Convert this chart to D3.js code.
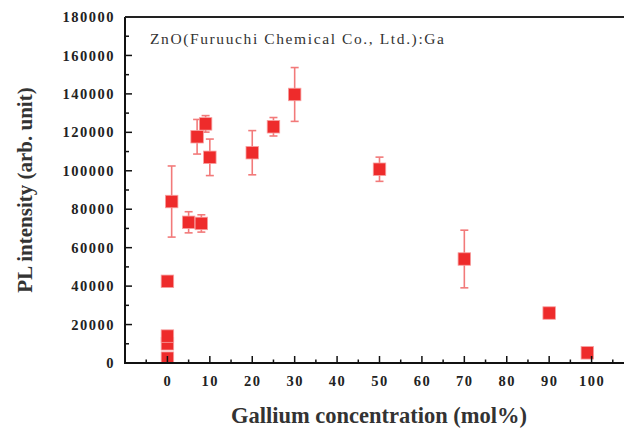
<!DOCTYPE html>
<html>
<head>
<meta charset="utf-8">
<script src="https://cdn.jsdelivr.net/npm/d3@7"></script>
<style>
  html, body { margin: 0; padding: 0; background: #fff; }
  svg { display: block; }
  text { font-family: "Liberation Serif", "Times New Roman", serif; }
</style>
</head>
<body>
<div id="chart"></div>
<script>
// Gallium concentration (mol%) of each sample
const gaConc = [0, 0, 0, 0, 1, 5, 8, 7, 9, 10, 20, 25, 30, 50, 70, 90, 99];
// PL intensity (arb. unit)
const plIntensity = [2500, 10000, 14000, 42500, 84000, 73200, 72600, 117700, 124400,
                     107000, 109400, 122900, 139700, 100800, 54100, 26000, 5300];
// Half-length of the error bar (0 = no bar)
const plError = [0, 0, 0, 0, 18500, 5500, 4500, 9000, 4300,
                 9500, 11500, 4800, 14000, 6300, 15000, 0, 0];

const xTicks = [0, 10, 20, 30, 40, 50, 60, 70, 80, 90, 100];
const yTicks = [0, 20000, 40000, 60000, 80000, 100000, 120000, 140000, 160000, 180000];

const sampleLabel = "ZnO(Furuuchi Chemical Co., Ltd.):Ga";
const xTitle = "Gallium concentration (mol%)";
const yTitle = "PL intensity (arb. unit)";

const W = 624, H = 430;
const padL = 125, padT = 17, baseY = 363;

const svg = d3.select("#chart").append("svg")
  .attr("width", W).attr("height", H);

const x = d3.scaleLinear().domain([-10, 110]).range([padL, 634]);
const y = d3.scaleLinear().domain([0, 180000]).range([baseY, padT]);

const points = gaConc.map((c, i) => ({ c, v: plIntensity[i], e: plError[i] }));

// plot area clip so marks stay inside the frame
svg.append("clipPath").attr("id", "plotClip")
  .append("rect").attr("x", padL).attr("y", padT).attr("width", W - padL).attr("height", baseY - padT);

const marks = svg.append("g").attr("clip-path", "url(#plotClip)");

// error bars
const errCol = "#f27a7a";
const withErr = points.filter(d => d.e > 0);
const eb = marks.append("g").attr("stroke", errCol).attr("stroke-width", 1.6).attr("fill", "none");
eb.selectAll("line.stem").data(withErr).join("line").attr("class", "stem")
  .attr("x1", d => x(d.c)).attr("x2", d => x(d.c))
  .attr("y1", d => y(d.v + d.e)).attr("y2", d => y(d.v - d.e));
eb.selectAll("line.capt").data(withErr).join("line").attr("class", "capt")
  .attr("x1", d => x(d.c) - 4).attr("x2", d => x(d.c) + 4)
  .attr("y1", d => y(d.v + d.e)).attr("y2", d => y(d.v + d.e));
eb.selectAll("line.capb").data(withErr).join("line").attr("class", "capb")
  .attr("x1", d => x(d.c) - 4).attr("x2", d => x(d.c) + 4)
  .attr("y1", d => y(d.v - d.e)).attr("y2", d => y(d.v - d.e));

// square markers
const sz = 12.5;
marks.append("g").selectAll("rect").data(points).join("rect")
  .attr("x", d => x(d.c) - sz / 2)
  .attr("y", d => y(d.v) - sz / 2)
  .attr("width", sz).attr("height", sz)
  .attr("fill", "#ee2b2b")
  .attr("stroke", "#f7a0a0").attr("stroke-width", 0.8);

// y axis with inward ticks
const yAxis = d3.axisLeft(y).tickValues(yTicks).tickSize(0).tickPadding(10)
  .tickFormat(d3.format("d"));
const gy = svg.append("g").attr("transform", `translate(${padL},0)`).call(yAxis);
gy.select(".domain").remove();
gy.selectAll("text")
  .attr("font-family", "Liberation Serif, serif")
  .attr("font-weight", "bold").attr("font-size", 14.5).attr("fill", "#222")
  .attr("letter-spacing", 1.5);

const yMinor = d3.range(10000, 180000, 20000);
svg.append("g").attr("stroke", "#111").attr("stroke-width", 1.5)
  .selectAll("line").data(yTicks.concat(yMinor)).join("line")
  .attr("x1", padL).attr("x2", d => padL + (d % 20000 === 0 ? 7 : 4))
  .attr("y1", d => y(d)).attr("y2", d => y(d));

// x axis with inward ticks
const xAxis = d3.axisBottom(x).tickValues(xTicks).tickSize(0).tickPadding(13);
const gx = svg.append("g").attr("transform", `translate(0,${baseY})`).call(xAxis);
gx.select(".domain").remove();
gx.selectAll("text")
  .attr("font-family", "Liberation Serif, serif")
  .attr("font-weight", "bold").attr("font-size", 14.5).attr("fill", "#222")
  .attr("letter-spacing", 1.5);

const xMinor = d3.range(-5, 111, 10);
svg.append("g").attr("stroke", "#111").attr("stroke-width", 1.5)
  .selectAll("line").data(xTicks.concat(xMinor)).join("line")
  .attr("x1", d => x(d)).attr("x2", d => x(d))
  .attr("y1", baseY).attr("y2", d => baseY - (d % 10 === 0 ? 7 : 3.5));

// frame lines
svg.append("line").attr("x1", padL).attr("x2", W).attr("y1", baseY).attr("y2", baseY)
  .attr("stroke", "#111").attr("stroke-width", 2);
svg.append("line").attr("x1", padL).attr("x2", padL).attr("y1", padT).attr("y2", baseY + 1)
  .attr("stroke", "#111").attr("stroke-width", 2);
svg.append("line").attr("x1", padL).attr("x2", W).attr("y1", padT).attr("y2", padT)
  .attr("stroke", "#222").attr("stroke-width", 1.8);

// sample label
svg.append("text").attr("x", 150).attr("y", 44)
  .attr("font-size", 15.5).attr("fill", "#333")
  .attr("textLength", 294).attr("lengthAdjust", "spacing")
  .text(sampleLabel);

// axis titles
svg.append("text").attr("x", 379).attr("y", 423)
  .attr("text-anchor", "middle").attr("font-weight", "bold")
  .attr("font-size", 22.5).attr("fill", "#333")
  .text(xTitle);

svg.append("text")
  .attr("transform", "translate(32,190) rotate(-90)")
  .attr("text-anchor", "middle").attr("font-weight", "bold")
  .attr("font-size", 21).attr("fill", "#333")
  .text(yTitle);
</script>
</body>
</html>
